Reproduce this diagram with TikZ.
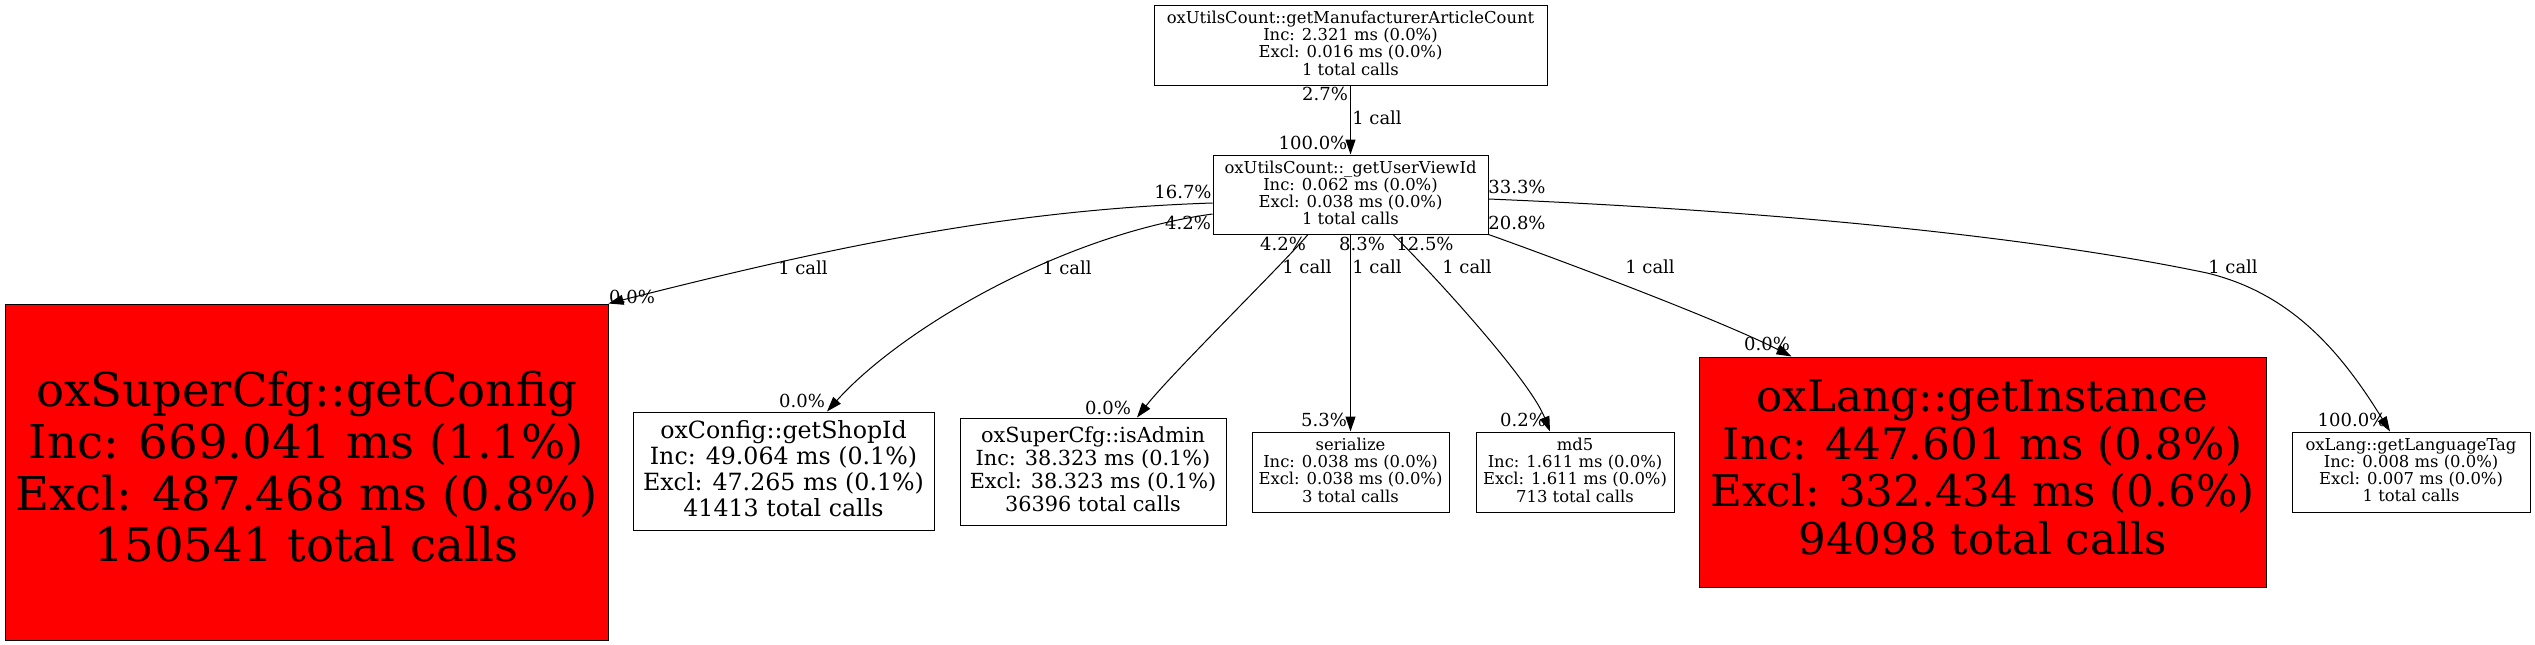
\documentclass[tikz,border=0pt]{standalone}
\usepackage{fontspec}
\setmainfont{DejaVu Serif}
\usetikzlibrary{arrows.meta,calc}
\newcommand{\fnS}{\fontsize{16.4}{17.2}\selectfont}
\newcommand{\fnM}{\fontsize{23.7}{26}\selectfont}
\newcommand{\fnA}{\fontsize{20.8}{23.3}\selectfont}
\newcommand{\fnL}{\fontsize{46.6}{51.7}\selectfont}
\newcommand{\fnI}{\fontsize{43.6}{47.7}\selectfont}
\newcommand{\fnE}{\fontsize{18}{20}\selectfont}
\newcommand{\dsc}{\rule[-0.23em]{0pt}{0pt}}
\begin{document}
\begin{tikzpicture}[x=1pt,y=-1pt,
  box/.style={draw=black, line width=1pt, inner sep=0pt, align=center},
  hot/.style={box, fill=red},
  edge/.style={draw=black, line width=1pt, -{Triangle[length=15pt,width=10pt]}},
  lbl/.style={inner sep=0pt, font=\fnE}]
\useasboundingbox (0,0) rectangle (2535,645);
% nodes
\node[box, font=\fnS, minimum width=393pt, minimum height=80pt] (top) at (1350.5,45)
  {oxUtilsCount::getManufacturerArticleCount\\Inc: 2.321 ms (0.0\%)\\Excl: 0.016 ms (0.0\%)\\1 total calls\dsc};
\node[box, font=\fnS, minimum width=275pt, minimum height=79pt] (uvid) at (1350.5,194.5)
  {oxUtilsCount::\_getUserViewId\\Inc: 0.062 ms (0.0\%)\\Excl: 0.038 ms (0.0\%)\\1 total calls\dsc};
\node[hot, font=\fnL, minimum width=603pt, minimum height=336pt] (cfg) at (306.5,472)
  {oxSuperCfg::getConfig\\Inc: 669.041 ms (1.1\%)\\Excl: 487.468 ms (0.8\%)\\150541 total calls\dsc};
\node[box, font=\fnM, minimum width=301pt, minimum height=118pt] (shop) at (783.5,471)
  {oxConfig::getShopId\\Inc: 49.064 ms (0.1\%)\\Excl: 47.265 ms (0.1\%)\\41413 total calls\dsc};
\node[box, font=\fnA, minimum width=266pt, minimum height=107pt] (admin) at (1093,471.5)
  {oxSuperCfg::isAdmin\\Inc: 38.323 ms (0.1\%)\\Excl: 38.323 ms (0.1\%)\\36396 total calls\dsc};
\node[box, font=\fnS, minimum width=197pt, minimum height=80pt] (ser) at (1350.5,472)
  {serialize\\Inc: 0.038 ms (0.0\%)\\Excl: 0.038 ms (0.0\%)\\3 total calls\dsc};
\node[box, font=\fnS, minimum width=198pt, minimum height=80pt] (md5) at (1575,472)
  {md5\\Inc: 1.611 ms (0.0\%)\\Excl: 1.611 ms (0.0\%)\\713 total calls\dsc};
\node[hot, font=\fnI, minimum width=567pt, minimum height=230pt] (inst) at (1982.5,472)
  {oxLang::getInstance\\Inc: 447.601 ms (0.8\%)\\Excl: 332.434 ms (0.6\%)\\94098 total calls\dsc};
\node[box, font=\fnS, minimum width=238pt, minimum height=80pt] (lang) at (2411,472)
  {oxLang::getLanguageTag\\Inc: 0.008 ms (0.0\%)\\Excl: 0.007 ms (0.0\%)\\1 total calls\dsc};
% edges
\draw[edge] (top.south) -- (uvid.north);
\draw[edge] ($(uvid.west)+(0,8.5)$) .. controls (1000,210) and (820,250) .. (cfg.north east);
\draw[edge] ($(uvid.west)+(0,19.5)$) .. controls (1060,235) and (900,330) .. ($(shop.north)+(43.5,0)$);
\draw[edge] ($(uvid.south)+(-42.5,0)$) .. controls (1285,262) and (1170,375) .. ($(admin.north)+(44,0)$);
\draw[edge] (uvid.south) -- (uvid.south |- ser.north);
\draw[edge] ($(uvid.south)+(42.5,0)$) .. controls (1433,274) and (1530,380) .. ($(md5.north)+(-25,0)$);
\draw[edge] (uvid.south east) .. controls (1560,260) and (1720,320) .. ($(inst.north west)+(93,0)$);
\coordinate (gmid) at (2207,273);
\draw[edge] ($(uvid.east)+(0,4.5)$) .. controls (1800,212) and (2050,240) .. (gmid)
  .. controls (2290,293) and (2340,350) .. ($(lang.north)+(-21,0)$);
% edge labels
\node[lbl] (l0a) at (1325,94) {2.7\%};
\node[lbl] (l0b) at (1377,118) {1 call};
\node[lbl] (l0c) at (1313,143) {100.0\%};
\node[lbl] (lAa) at (1183,192) {16.7\%};
\node[lbl] (lAb) at (803,268) {1 call};
\node[lbl] (lAc) at (632,297) {0.0\%};
\node[lbl] (lBa) at (1188,223) {4.2\%};
\node[lbl] (lBb) at (1067,268) {1 call};
\node[lbl] (lBc) at (802,401) {0.0\%};
\node[lbl] (lCa) at (1283,244) {4.2\%};
\node[lbl] (lCb) at (1307,267) {1 call};
\node[lbl] (lCc) at (1108,408) {0.0\%};
\node[lbl] (lDa) at (1362,244) {8.3\%};
\node[lbl] (lDb) at (1377,267) {1 call};
\node[lbl] (lDc) at (1324,420) {5.3\%};
\node[lbl] (lEa) at (1425,244) {12.5\%};
\node[lbl] (lEb) at (1467,267) {1 call};
\node[lbl] (lEc) at (1523,420) {0.2\%};
\node[lbl] (lFa) at (1517,223) {20.8\%};
\node[lbl] (lFb) at (1650,267) {1 call};
\node[lbl] (lFc) at (1767,344) {0.0\%};
\node[lbl] (lGa) at (1517,187) {33.3\%};
\node[lbl] (lGb) at (2233,267) {1 call};
\node[lbl] (lGc) at (2352,420) {100.0\%};
\end{tikzpicture}
\end{document}
